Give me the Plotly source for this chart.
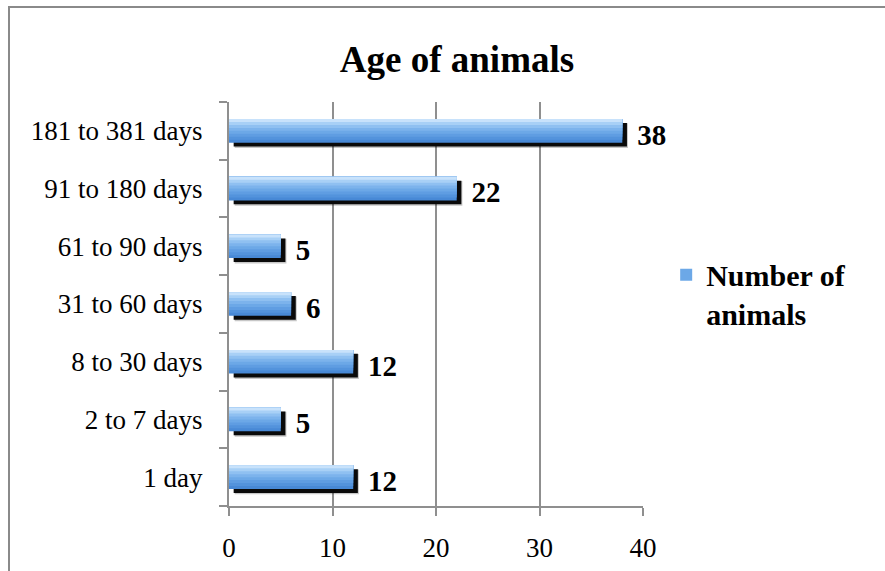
import plotly.graph_objects as go

categories = ["1 day", "2 to 7 days", "8 to 30 days", "31 to 60 days",
              "61 to 90 days", "91 to 180 days", "181 to 381 days"]
values = [12, 5, 12, 6, 5, 22, 38]
series_name = "Number of<br>animals"
title_text = "Age of animals"
x_ticks = [0, 10, 20, 30, 40]

FONT = "Liberation Serif, Times New Roman, serif"
BAR_W = 0.41
SHADOW_DX = 0.45    # data units (right shift)
SHADOW_DY = 0.068   # category units (down shift)

fig = go.Figure()

# soft blur halo of the shadow
fig.add_trace(go.Bar(
    y=categories, x=values, base=[SHADOW_DX + 0.1] * len(values), orientation="h",
    width=BAR_W + 0.02, offset=-BAR_W / 2 - SHADOW_DY - 0.025,
    marker=dict(color="rgba(0,0,0,0.22)", line=dict(width=0)),
    showlegend=False, hoverinfo="skip"))

# shadow with value labels
fig.add_trace(go.Bar(
    y=categories, x=values, base=[SHADOW_DX] * len(values), orientation="h",
    width=BAR_W, offset=-BAR_W / 2 - SHADOW_DY,
    marker=dict(color="#0a0a0a", line=dict(width=0)),
    text=["\u00a0" + str(v) for v in values], textposition="outside",
    textfont=dict(family=FONT, size=29, color="black", weight="bold"),
    constraintext="none", cliponaxis=False,
    showlegend=False, hoverinfo="skip"))

# gradient main bar built from overlapping strips (dark bottom -> light top)
strip_colors = ["#4889d6", "#5393dc", "#5f9de2", "#6ca8e7",
                "#7cb3ec", "#8fc0f1", "#a8d0f6", "#c8e2fb"]
n = len(strip_colors)
sw = BAR_W / n
for k, c in enumerate(strip_colors):
    fig.add_trace(go.Bar(
        y=categories, x=values, orientation="h",
        width=BAR_W - k * sw, offset=-BAR_W / 2 + k * sw,
        marker=dict(color=c, line=dict(width=0)),
        name=series_name, showlegend=(k == 3), hoverinfo="x+y"))

fig.update_layout(
    width=885, height=571,
    barmode="overlay",
    paper_bgcolor="white", plot_bgcolor="white",
    margin=dict(l=229, r=242, t=102, b=65, autoexpand=False),
    font=dict(family=FONT, color="black"),
    title=dict(text=title_text, x=457 / 885, xanchor="center",
               y=1 - 59 / 571, yanchor="middle",
               font=dict(family=FONT, size=37, color="black", weight="bold")),
    legend=dict(x=1.056, xanchor="left", y=0.637, yanchor="top",
                valign="top", bgcolor="rgba(0,0,0,0)",
                font=dict(family=FONT, size=30, color="black", weight="bold"),
                itemwidth=30),
    xaxis=dict(range=[0, 40], tickvals=x_ticks, showgrid=True,
               gridcolor="#8f8f8f", gridwidth=1.6,
               showline=True, linecolor="#8f8f8f", linewidth=2,
               ticks="outside", ticklen=8, tickcolor="#8f8f8f", tickwidth=2,
               tickfont=dict(family=FONT, size=27, color="black"),
               ticklabelstandoff=9, zeroline=False, fixedrange=True,
               automargin=False),
    yaxis=dict(type="category", categoryorder="array", categoryarray=categories,
               range=[-0.5, len(categories) - 0.5],
               showline=True, linecolor="#8f8f8f", linewidth=2,
               ticks="outside", tickson="boundaries", ticklen=8,
               tickcolor="#8f8f8f", tickwidth=2, showgrid=False,
               tickfont=dict(family=FONT, size=27, color="black"),
               ticklabelstandoff=19, fixedrange=True, automargin=False),
    shapes=[dict(type="rect", xref="paper", yref="paper",
                 x0=(9 - 229) / 414, x1=2.0, y0=-1.0, y1=(506 - 7) / 404,
                 line=dict(color="#8a8a8a", width=2), fillcolor="rgba(0,0,0,0)",
                 layer="below")],
)

fig.write_html("out.html")
